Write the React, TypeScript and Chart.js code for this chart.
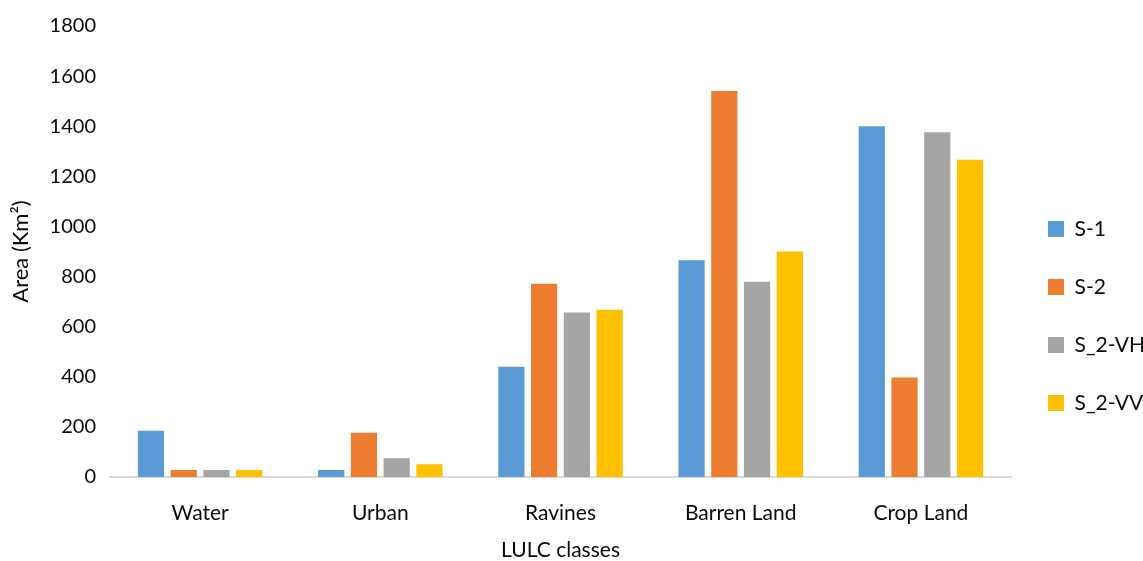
import React, { useEffect, useRef } from "react";
import { Chart, registerables } from "chart.js";

Chart.register(...registerables);

const categories = ["Water", "Urban", "Ravines", "Barren Land", "Crop Land"];
const s1 = [185, 28, 440, 865, 1400];
const s2 = [28, 177, 771, 1541, 397];
const s2VH = [28, 75, 657, 779, 1376];
const s2VV = [28, 51, 668, 900, 1266];
const seriesNames = ["S-1", "S-2", "S_2-VH", "S_2-VV"];
const seriesColors = ["#5B9BD5", "#ED7D31", "#A5A5A5", "#FFC000"];
const yTicks = [0, 200, 400, 600, 800, 1000, 1200, 1400, 1600, 1800];

const FONT = "Lato, 'Open Sans', sans-serif";
const TEXT = "#0a0a0a";

// Draws the horizontal axis caption under the category labels.
const xCaption = {
  id: "xCaption",
  afterDraw(chart: any) {
    const { ctx, chartArea } = chart;
    ctx.save();
    ctx.font = `21px ${FONT}`;
    ctx.fillStyle = TEXT;
    ctx.textAlign = "center";
    ctx.textBaseline = "middle";
    ctx.fillText("LULC classes", chartArea.left + chartArea.width / 2, 550);
    ctx.restore();
  },
};

export default function App() {
  const ref = useRef<HTMLCanvasElement | null>(null);

  useEffect(() => {
    document.body.style.margin = "0";
    const canvas = ref.current;
    if (!canvas) return;
    const values = [s1, s2, s2VH, s2VV];
    const chart = new Chart(canvas, {
      type: "bar",
      data: {
        labels: categories,
        datasets: seriesNames.map((name, i) => ({
          label: name,
          data: values[i],
          backgroundColor: seriesColors[i],
          borderWidth: 0,
          categoryPercentage: 0.727,
          barPercentage: 0.8,
        })),
      },
      options: {
        animation: false,
        responsive: false,
        maintainAspectRatio: false,
        layout: { padding: { top: 19, left: 0, right: 0, bottom: 0 } },
        plugins: {
          tooltip: { enabled: false },
          legend: {
            position: "right",
            align: "center",
            maxWidth: 132,
            title: { display: true, text: "", font: { size: 10 }, padding: { top: 40, bottom: 0 } },
            labels: {
              boxWidth: 16,
              boxHeight: 16,
              padding: 37,
              color: TEXT,
              font: { family: FONT, size: 21 },
            },
          },
        },
        scales: {
          x: {
            grid: { display: false, drawTicks: false },
            border: { display: true, color: "#d9d9d9", width: 2 },
            ticks: { color: TEXT, font: { family: FONT, size: 21 }, padding: 24, maxRotation: 0 },
            afterFit(scale: any) {
              scale.height = 84;
            },
          },
          y: {
            min: 0,
            max: 1800,
            grid: { display: false, drawTicks: false },
            border: { display: false },
            afterBuildTicks(scale: any) {
              scale.ticks = yTicks.map((v) => ({ value: v }));
            },
            ticks: {
              color: TEXT,
              font: { family: FONT, size: 20 },
              padding: 14,
              callback: (v: any) => String(v),
            },
            title: {
              display: true,
              text: "Area (Km²)",
              color: TEXT,
              font: { family: FONT, size: 22 },
              padding: { top: 8, bottom: 0 },
            },
            afterFit(scale: any) {
              scale.width = 110;
            },
          },
        },
      },
      plugins: [xCaption],
    });
    return () => chart.destroy();
  }, []);

  return (
    <div style={{ width: 1143, height: 561 }}>
      <canvas ref={ref} width={1143} height={561} style={{ display: "block" }} />
    </div>
  );
}
